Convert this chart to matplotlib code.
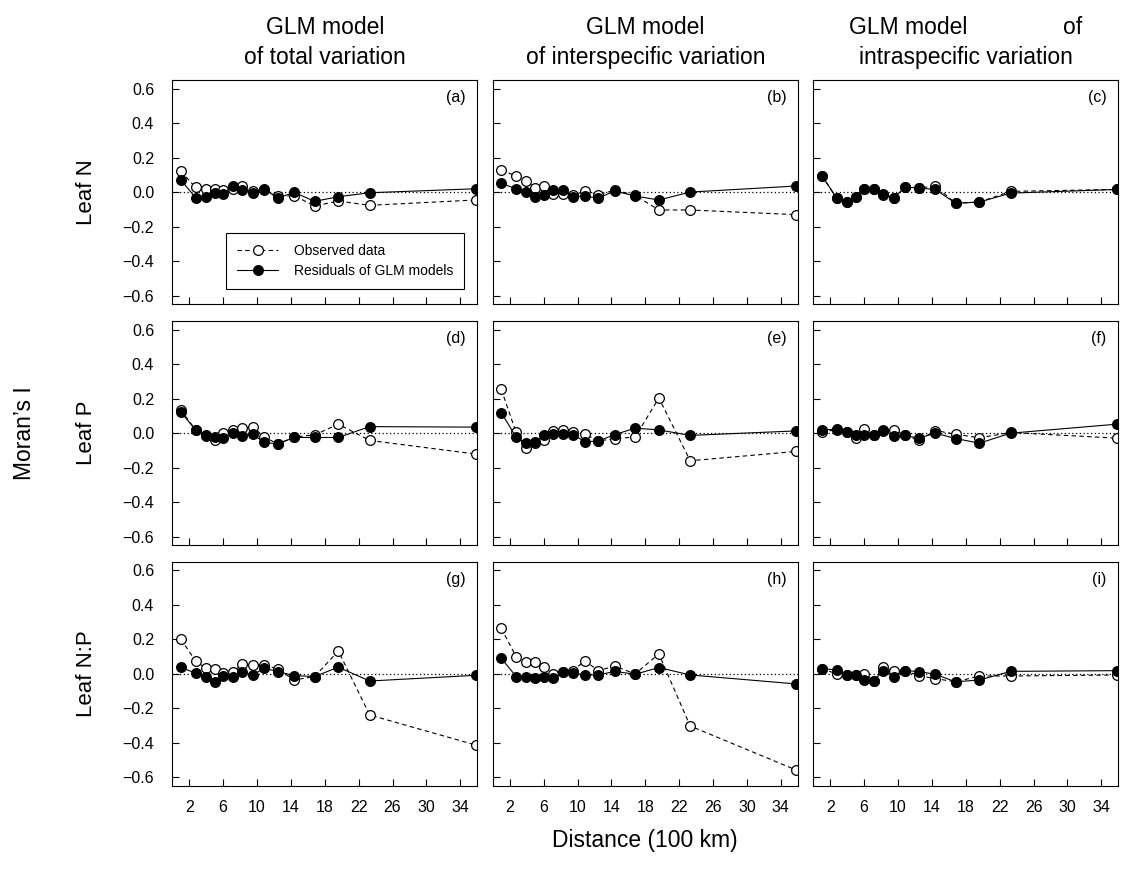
import matplotlib
matplotlib.use("Agg")
import matplotlib.pyplot as plt

plt.rcParams['font.family'] = ['Liberation Sans', 'DejaVu Sans']

# distance classes (100 km)
dist = [1.0, 2.75, 3.95, 5.0, 6.0, 7.15, 8.25, 9.5, 10.85, 12.45, 14.4, 16.8, 19.6, 23.3, 35.8]

# Leaf N
obs_a = [0.123, 0.029, 0.019, 0.019, 0.015, 0.019, 0.035, 0.010, 0.015, -0.023, -0.019, -0.079, -0.050, -0.075, -0.044]
res_a = [0.073, -0.031, -0.025, -0.004, -0.008, 0.038, 0.015, -0.002, 0.019, -0.033, 0.000, -0.052, -0.025, -0.002, 0.021]
obs_b = [0.129, 0.096, 0.069, 0.023, 0.037, -0.010, -0.010, -0.017, 0.008, -0.013, 0.013, -0.017, -0.102, -0.102, -0.129]
res_b = [0.052, 0.021, 0.000, -0.025, -0.013, 0.012, 0.012, -0.025, -0.021, -0.033, 0.008, -0.021, -0.044, 0.002, 0.037]
obs_c = [0.098, -0.033, -0.056, -0.025, 0.017, 0.017, -0.017, -0.031, 0.031, 0.025, 0.037, -0.063, -0.056, 0.006, 0.017]
res_c = [0.098, -0.033, -0.056, -0.025, 0.017, 0.017, -0.010, -0.031, 0.031, 0.025, 0.017, -0.063, -0.056, -0.004, 0.017]

# Leaf P
obs_d = [0.135, 0.019, -0.015, -0.038, 0.000, 0.019, 0.029, 0.038, -0.023, -0.062, -0.023, -0.010, 0.052, -0.042, -0.121]
res_d = [0.123, 0.019, -0.010, -0.023, -0.029, 0.000, -0.015, -0.006, -0.054, -0.062, -0.025, -0.025, -0.025, 0.038, 0.035]
obs_e = [0.254, 0.004, -0.088, -0.058, -0.038, 0.015, 0.019, 0.008, -0.004, -0.046, -0.031, -0.023, 0.204, -0.160, -0.106]
res_e = [0.119, -0.023, -0.058, -0.054, -0.010, -0.004, -0.004, -0.008, -0.050, -0.046, -0.008, 0.029, 0.019, -0.013, 0.013]
obs_f = [0.008, 0.019, 0.008, -0.029, 0.023, -0.008, 0.019, 0.019, -0.013, -0.042, 0.015, -0.006, -0.027, 0.004, -0.029]
res_f = [0.019, 0.023, 0.008, -0.008, -0.010, -0.008, 0.015, -0.015, -0.013, -0.029, 0.000, -0.031, -0.058, 0.000, 0.052]

# Leaf N:P
obs_g = [0.203, 0.075, 0.033, 0.029, 0.008, 0.012, 0.056, 0.054, 0.054, 0.027, -0.035, -0.015, 0.133, -0.238, -0.412]
res_g = [0.039, 0.004, -0.019, -0.044, -0.012, -0.015, 0.014, -0.006, 0.033, 0.014, -0.010, -0.015, 0.039, -0.041, -0.008]
obs_h = [0.265, 0.100, 0.068, 0.068, 0.043, 0.000, 0.014, 0.019, 0.077, 0.019, 0.046, 0.000, 0.116, -0.302, -0.557]
res_h = [0.091, -0.015, -0.019, -0.025, -0.015, -0.025, 0.010, 0.004, -0.006, -0.006, 0.015, -0.002, 0.037, -0.006, -0.058]
obs_i = [0.031, 0.000, -0.004, -0.008, 0.000, -0.039, 0.039, 0.015, 0.019, -0.010, -0.027, -0.046, -0.012, -0.012, -0.006]
res_i = [0.031, 0.023, -0.004, -0.008, -0.035, -0.039, 0.019, -0.015, 0.019, 0.014, -0.002, -0.046, -0.035, 0.015, 0.019]

observed = [[obs_a, obs_b, obs_c], [obs_d, obs_e, obs_f], [obs_g, obs_h, obs_i]]
residual = [[res_a, res_b, res_c], [res_d, res_e, res_f], [res_g, res_h, res_i]]
letters = [['(a)', '(b)', '(c)'], ['(d)', '(e)', '(f)'], ['(g)', '(h)', '(i)']]
row_labels = ['Leaf N', 'Leaf P', 'Leaf N:P']
col_titles = ['GLM model\nof total variation',
              'GLM model\nof interspecific variation',
              'GLM model               of\nintraspecific variation']
xticks = [2, 6, 10, 14, 18, 22, 26, 30, 34]
yticks = [-0.6, -0.4, -0.2, 0.0, 0.2, 0.4, 0.6]


def fmt_y(v, pos):
    return ('%.1f' % v).replace('-', '\u2212')


fig, axes = plt.subplots(3, 3, figsize=(11.21, 8.72), dpi=100)
fig.subplots_adjust(left=0.1537, right=0.9976, top=0.9079, bottom=0.0986,
                    wspace=0.051, hspace=0.074)

for r in range(3):
    for c in range(3):
        ax = axes[r, c]
        ax.axhline(0, color='black', lw=0.9, ls=(0, (1, 2)), zorder=1)
        ax.plot(dist, observed[r][c], color='black', lw=0.8, ls=(0, (4, 3)),
                marker='o', ms=7, mfc='white', mec='black', mew=0.9,
                label='Observed data', zorder=2)
        ax.plot(dist, residual[r][c], color='black', lw=0.8, ls='-',
                marker='o', ms=7, mfc='black', mec='black', mew=0.9,
                label='Residuals of GLM models', zorder=3)
        ax.set_xlim(0, 36)
        ax.set_ylim(-0.65, 0.65)
        ax.set_xticks(xticks)
        ax.set_yticks(yticks)
        ax.tick_params(direction='in', length=5, width=0.8, labelsize=11.5)
        ax.tick_params(axis='x', pad=10)
        ax.tick_params(axis='y', pad=13)
        ax.yaxis.set_major_formatter(matplotlib.ticker.FuncFormatter(fmt_y))
        for s in ax.spines.values():
            s.set_linewidth(0.8)
        ax.text(0.962, 0.955, letters[r][c], transform=ax.transAxes,
                ha='right', va='top', fontsize=11.5)
        if c > 0:
            ax.tick_params(labelleft=False)
        else:
            ax.set_ylabel(row_labels[r], fontsize=16, labelpad=18)
        if r < 2:
            ax.tick_params(labelbottom=False)
        if r == 0:
            ax.set_title(col_titles[c], fontsize=16.5, pad=12, linespacing=1.35)

leg = axes[0, 0].legend(loc='lower right', bbox_to_anchor=(0.957, 0.069),
                        borderaxespad=0, fontsize=10, handlelength=3.0,
                        handletextpad=1.1, labelspacing=0.4, borderpad=0.8,
                        fancybox=False, framealpha=1, edgecolor='black')
leg.get_frame().set_linewidth(0.8)

fig.text(25 / 1121, 1 - 433 / 872, "Moran\u2019s I", rotation=90,
         ha='center', va='center', fontsize=16.5)
fig.text(645 / 1121, 1 - 840 / 872, 'Distance (100 km)',
         ha='center', va='center', fontsize=16.5)

fig.savefig('out.png', dpi=100)
